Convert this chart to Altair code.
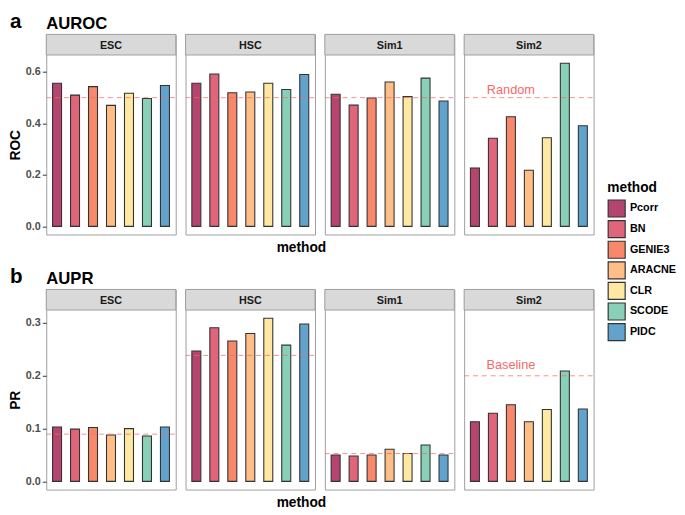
import altair as alt
import pandas as pd

methods = ["Pcorr", "BN", "GENIE3", "ARACNE", "CLR", "SCODE", "PIDC"]
colors = ["#B5446E", "#E0657A", "#F7896A", "#FEBE85", "#FEE8A2", "#88D0B8", "#62A3CD"]
datasets = ["ESC", "HSC", "Sim1", "Sim2"]

roc_esc = [0.556, 0.510, 0.543, 0.470, 0.517, 0.497, 0.547]
roc_hsc = [0.556, 0.592, 0.519, 0.522, 0.556, 0.532, 0.590]
roc_sim1 = [0.513, 0.471, 0.499, 0.561, 0.504, 0.576, 0.487]
roc_sim2 = [0.227, 0.342, 0.426, 0.218, 0.344, 0.634, 0.391]

pr_esc = [0.103, 0.099, 0.102, 0.088, 0.100, 0.086, 0.103]
pr_hsc = [0.247, 0.291, 0.266, 0.280, 0.309, 0.258, 0.298]
pr_sim1 = [0.050, 0.048, 0.050, 0.061, 0.053, 0.069, 0.050]
pr_sim2 = [0.113, 0.129, 0.145, 0.113, 0.136, 0.209, 0.137]

roc_baseline = [0.5, 0.5, 0.5, 0.5]
pr_baseline = [0.0895, 0.2386, 0.0527, 0.2]

roc_ticks = [0.0, 0.2, 0.4, 0.6]
pr_ticks = [0.0, 0.1, 0.2, 0.3]

panel_tags = ["a", "b"]
panel_titles = ["AUROC", "AUPR"]
y_titles = ["ROC", "PR"]
annot_labels = ["Random", "Baseline"]
annot_method = "GENIE3"
annot_values = [0.53, 0.22]

FONT = "Liberation Sans"
W = 132
S = 21
LINE = "#F26B6B"
TXT = "#F46A6A"

legend = alt.Legend(
    title="method", titleFontSize=14, titleFontWeight="bold", titleColor="black",
    titlePadding=4, labelFontSize=11, labelFontWeight="bold", labelColor="black",
    symbolType="square", symbolSize=300, symbolStrokeColor="#333333",
    symbolStrokeWidth=1.2, symbolOpacity=1, rowPadding=-3, labelOffset=4,
    orient="none", legendX=572, legendY=150,
)


def panel(ds, values, base, domain, ticks, ytitle, H, first, tag, title, annot):
    df = pd.DataFrame({"method": methods, "value": values})
    yscale = alt.Scale(domain=domain, range=[S + H, S], nice=False, zero=False)
    xscale = alt.Scale(domain=methods, paddingInner=0.5, paddingOuter=0.35)
    if first:
        yaxis = alt.Axis(values=ticks, format=".1f", title=ytitle, domain=False, grid=False,
                         tickSize=4, tickColor="#333333", labelColor="#4D4D4D",
                         labelFontWeight="bold", labelFontSize=11, labelPadding=2,
                         titleFontSize=14, titleFontWeight="bold", titleColor="black",
                         titlePadding=3)
    else:
        yaxis = None
    strip_df = pd.DataFrame({"dataset": [ds]})
    strip = alt.Chart(strip_df).mark_rect(fill="#D9D9D9", stroke="#9E9E9E", strokeWidth=1).encode(
        x=alt.value(0), x2=alt.value(W), y=alt.value(0), y2=alt.value(S))
    strip_txt = alt.Chart(strip_df).mark_text(fontSize=11, fontWeight="bold", color="#1A1A1A",
                                              font=FONT).encode(
        x=alt.value(W / 2), y=alt.value(S / 2 + 1), text="dataset:N")
    bars = alt.Chart(df).mark_bar(stroke="#333333", strokeWidth=1.1, opacity=1).encode(
        x=alt.X("method:N", scale=xscale, axis=None, sort=methods),
        y=alt.Y("value:Q", scale=yscale, axis=yaxis),
        color=alt.Color("method:N", scale=alt.Scale(domain=methods, range=colors), legend=legend),
    )
    rule = alt.Chart(pd.DataFrame({"value": [base]})).mark_rule(
        color=LINE, strokeDash=[5, 4], strokeWidth=1, opacity=0.75).encode(
        y=alt.Y("value:Q", scale=yscale, axis=yaxis), x=alt.value(0), x2=alt.value(W))
    layers = [strip, strip_txt, bars, rule]
    if annot is not None:
        adf = pd.DataFrame({"method": [annot_method], "value": [annot[1]], "label": [annot[0]]})
        layers.append(alt.Chart(adf).mark_text(fontSize=13, color=TXT, font=FONT).encode(
            x=alt.X("method:N", scale=xscale, axis=None, sort=methods),
            y=alt.Y("value:Q", scale=yscale, axis=yaxis), text="label:N"))
    if first:
        tdf = pd.DataFrame({"label": [tag]})
        layers.append(alt.Chart(tdf).mark_text(fontSize=21, fontWeight="bold", color="black",
                                               align="left", baseline="alphabetic", font=FONT).encode(
            x=alt.value(-37), y=alt.value(-7), text="label:N"))
        ttdf = pd.DataFrame({"label": [title]})
        layers.append(alt.Chart(ttdf).mark_text(fontSize=17, fontWeight="bold", color="black",
                                                align="left", baseline="alphabetic", font=FONT).encode(
            x=alt.value(0), y=alt.value(-6), text="label:N"))
    return alt.layer(*layers).properties(width=W, height=S + H)


def row(vals, bases, domain, ticks, ytitle, H, tag, title, annot_label, annot_value):
    panels = []
    for i, ds in enumerate(datasets):
        annot = (annot_label, annot_value) if ds == "Sim2" else None
        panels.append(panel(ds, vals[i], bases[i], domain, ticks, ytitle, H, i == 0, tag, title, annot))
    return alt.hconcat(*panels, spacing=8).properties(
        title=alt.Title("method", orient="bottom", anchor="middle", fontSize=14,
                        fontWeight="bold", color="black", offset=6, font=FONT))


roc_max = max(roc_esc + roc_hsc + roc_sim1 + roc_sim2)
pr_max = max(pr_esc + pr_hsc + pr_sim1 + pr_sim2)

row_a = row([roc_esc, roc_hsc, roc_sim1, roc_sim2], roc_baseline,
            [-0.05 * roc_max, 1.05 * roc_max], roc_ticks, y_titles[0], 183,
            panel_tags[0], panel_titles[0], annot_labels[0], annot_values[0])
row_b = row([pr_esc, pr_hsc, pr_sim1, pr_sim2], pr_baseline,
            [-0.05 * pr_max, 1.05 * pr_max], pr_ticks, y_titles[1], 183,
            panel_tags[1], panel_titles[1], annot_labels[1], annot_values[1])

chart = alt.vconcat(row_a, row_b, spacing=10).properties(
    padding={"top": -3, "left": 0, "right": 0, "bottom": 0}).configure(
    font=FONT).configure_view(stroke="#9E9E9E", strokeWidth=1)

chart.save("out.html", embed_options={"renderer": "svg", "actions": False})
